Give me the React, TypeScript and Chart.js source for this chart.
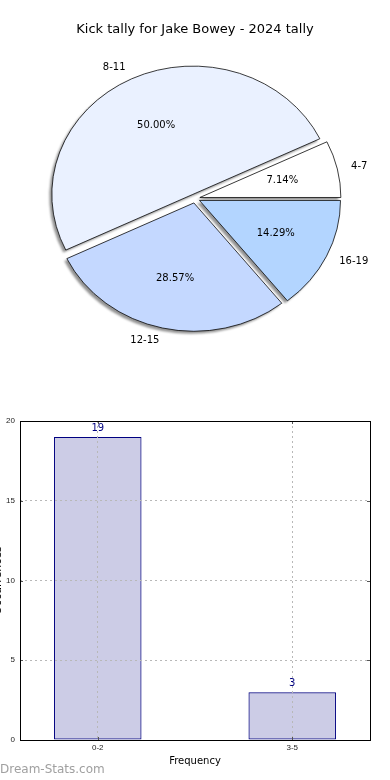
import React, { useEffect, useRef } from 'react';
import { Chart, registerables } from 'chart.js';

Chart.register(...registerables);

const TITLE = 'Kick tally for Jake Bowey - 2024 tally';
// pie slices listed clockwise from east (Chart.js draws clockwise)
const pieLabels = ['16-19', '12-15', '8-11', '4-7'];
const pieValues = [2, 4, 7, 1];
const pieColors = ['#b3d5ff', '#c4d8ff', '#eaf1ff', '#ffffff'];

const barLabels = ['0-2', '3-5'];
const barPositions = [0, 1];
const barValues = [19, 3];
const X_TITLE = 'Frequency';
const Y_TITLE = 'Occurrences';
const WATERMARK = 'Dream-Stats.com';

const EXPLODE = 5;
const SY = 0.91;
const FONT = "'DejaVu Sans'";

const piePlugin = {
  id: 'pieExtras',
  beforeDatasetsDraw(chart: any) {
    const ctx = chart.ctx;
    const arcs = chart.getDatasetMeta(0).data as any[];
    if (!arcs.length) return;
    const cy = arcs[0].y;
    ctx.save();
    ctx.translate(0, cy);
    ctx.scale(1, SY);
    ctx.translate(0, -cy);
    // shadows
    ctx.save();
    ctx.fillStyle = 'rgba(40,40,40,0.5)';
    ctx.filter = 'blur(1px)';
    arcs.forEach((a) => {
      const mid = (a.startAngle + a.endAngle) / 2;
      const ox = Math.cos(mid) * EXPLODE - 2.5;
      const oy = Math.sin(mid) * EXPLODE + 2.5 / SY;
      ctx.beginPath();
      ctx.moveTo(a.x + ox, a.y + oy);
      ctx.arc(a.x + ox, a.y + oy, a.outerRadius, a.startAngle, a.endAngle);
      ctx.closePath();
      ctx.fill();
    });
    ctx.restore();
    arcs.forEach((a) => {
      const mid = (a.startAngle + a.endAngle) / 2;
      ctx.save();
      ctx.translate(Math.cos(mid) * EXPLODE, Math.sin(mid) * EXPLODE);
      a.draw(ctx);
      ctx.restore();
    });
    ctx.restore();
    return false;
  },
  afterDraw(chart: any) {
    const ctx = chart.ctx;
    const arcs = chart.getDatasetMeta(0).data as any[];
    const total = pieValues.reduce((s, v) => s + v, 0);
    ctx.save();
    ctx.fillStyle = '#000';
    ctx.textBaseline = 'middle';
    ctx.textAlign = 'center';
    ctx.font = `13px ${FONT}`;
    ctx.fillText(TITLE, chart.width / 2, 30);
    ctx.font = `10px ${FONT}`;
    arcs.forEach((a, i) => {
      const mid = (a.startAngle + a.endAngle) / 2;
      const c = Math.cos(mid);
      const s = Math.sin(mid);
      const r = a.outerRadius;
      const px = a.x + c * (EXPLODE + 0.6 * r);
      const py = a.y + s * (EXPLODE + 0.6 * r) * SY;
      ctx.textAlign = 'center';
      ctx.fillText(((pieValues[i] / total) * 100).toFixed(2) + '%', px, py);
      const lx = a.x + c * (EXPLODE + 1.1 * r);
      const ly = a.y + s * (EXPLODE + 1.1 * r) * SY;
      ctx.textAlign = c > 0 ? 'left' : 'right';
      ctx.fillText(pieLabels[i], lx, ly);
    });
    ctx.restore();
  },
};

const barPlugin = {
  id: 'barExtras',
  afterDraw(chart: any) {
    const ctx = chart.ctx;
    const a = chart.chartArea;
    const xs = chart.scales.x;
    const ys = chart.scales.y;
    ctx.save();
    // inward tick marks
    ctx.strokeStyle = '#555';
    ctx.lineWidth = 1;
    ctx.beginPath();
    ys.ticks.forEach((t: any) => {
      const py = Math.round(ys.getPixelForValue(t.value)) + 0.5;
      ctx.moveTo(a.left, py);
      ctx.lineTo(a.left + 3, py);
      ctx.moveTo(a.right, py);
      ctx.lineTo(a.right - 3, py);
    });
    xs.ticks.forEach((t: any) => {
      const px = Math.round(xs.getPixelForValue(t.value)) + 0.5;
      ctx.moveTo(px, a.bottom);
      ctx.lineTo(px, a.bottom - 3);
      ctx.moveTo(px, a.top);
      ctx.lineTo(px, a.top + 3);
    });
    ctx.stroke();
    // frame
    ctx.strokeStyle = '#000';
    ctx.strokeRect(Math.round(a.left) + 0.5, Math.round(a.top) + 0.5, Math.round(a.width), Math.round(a.height));
    // value labels
    ctx.fillStyle = '#000080';
    ctx.font = `10px ${FONT}`;
    ctx.textAlign = 'center';
    ctx.textBaseline = 'middle';
    const meta = chart.getDatasetMeta(0);
    meta.data.forEach((b: any, i: number) => {
      ctx.fillText(String(barValues[i]), b.x, b.y - 9);
    });
    // watermark
    ctx.fillStyle = '#a0a0a0';
    ctx.font = `12px ${FONT}`;
    ctx.textAlign = 'left';
    ctx.fillText(WATERMARK, 0, 380);
    ctx.restore();
  },
};

export default function App() {
  const pieRef = useRef<HTMLCanvasElement>(null);
  const barRef = useRef<HTMLCanvasElement>(null);

  useEffect(() => {
    Chart.defaults.font.family = FONT;
    const pie = new Chart(pieRef.current as HTMLCanvasElement, {
      type: 'pie',
      data: {
        labels: pieLabels,
        datasets: [
          {
            data: pieValues,
            backgroundColor: pieColors,
            borderColor: '#000',
            borderWidth: 0.8,
            offset: 0,
            rotation: 90,
            radius: 141,
            clip: false,
          } as any,
        ],
      },
      options: {
        responsive: false,
        animation: false,
        devicePixelRatio: 1,
        events: [],
        layout: { padding: { top: 7, bottom: 0, left: 0, right: 0 } },
        plugins: {
          legend: { display: false },
          tooltip: { enabled: false },
          title: { display: false },
        },
      } as any,
      plugins: [piePlugin as any],
    });

    const tickFont = { family: "'Liberation Sans'", size: 8 };
    const bar = new Chart(barRef.current as HTMLCanvasElement, {
      type: 'bar',
      data: {
        datasets: [
          {
            data: barPositions.map((x, i) => ({ x, y: barValues[i] })),
            backgroundColor: 'rgba(0,0,128,0.2)',
            borderColor: '#000080',
            borderWidth: 1,
            borderSkipped: false,
            barPercentage: 0.45,
            categoryPercentage: 1,
          } as any,
        ],
      },
      options: {
        responsive: false,
        animation: false,
        devicePixelRatio: 1,
        events: [],
        layout: { padding: { top: 31, right: 20, left: 0, bottom: 0 } },
        plugins: { legend: { display: false }, tooltip: { enabled: false } },
        scales: {
          x: {
            type: 'linear',
            min: -0.4,
            max: 1.4,
            offset: false,
            afterBuildTicks: (s: any) => {
              s.ticks = barPositions.map((v) => ({ value: v }));
            },
            afterFit: (s: any) => {
              s.height = 40;
            },
            ticks: {
              autoSkip: false,
              padding: 3,
              maxRotation: 0,
              font: tickFont,
              color: '#222',
              callback: (v: any) => {
                const idx = barPositions.indexOf(v);
                return idx >= 0 ? barLabels[idx] : '';
              },
            },
            grid: { offset: false, drawTicks: false, color: '#b8b8b8', lineWidth: 1, z: 1 },
            border: { display: false, dash: [2, 3] },
            title: {
              display: true,
              text: X_TITLE,
              color: '#000',
              font: { family: FONT, size: 10 },
              padding: { top: 0, bottom: 13 },
            },
          },
          y: {
            min: 0,
            max: 20,
            afterFit: (s: any) => {
              s.width = 20;
            },
            ticks: { stepSize: 5, padding: 5, font: tickFont, color: '#222' },
            grid: { drawTicks: false, color: '#b8b8b8', lineWidth: 1, z: 1 },
            border: { display: false, dash: [2, 3] },
            title: {
              display: true,
              text: Y_TITLE,
              color: '#000',
              font: { family: FONT, size: 11 },
              padding: { top: -8, bottom: 0 },
            },
          },
        },
      } as any,
      plugins: [barPlugin as any],
    });

    return () => {
      pie.destroy();
      bar.destroy();
    };
  }, []);

  return (
    <div style={{ position: 'absolute', left: 0, top: 0, width: 390, height: 780, background: '#fff' }}>
      <canvas
        ref={pieRef}
        width={390}
        height={390}
        style={{ position: 'absolute', left: 0, top: 0, width: 390, height: 390 }}
      />
      <canvas
        ref={barRef}
        width={390}
        height={390}
        style={{ position: 'absolute', left: 0, top: 390, width: 390, height: 390 }}
      />
    </div>
  );
}
